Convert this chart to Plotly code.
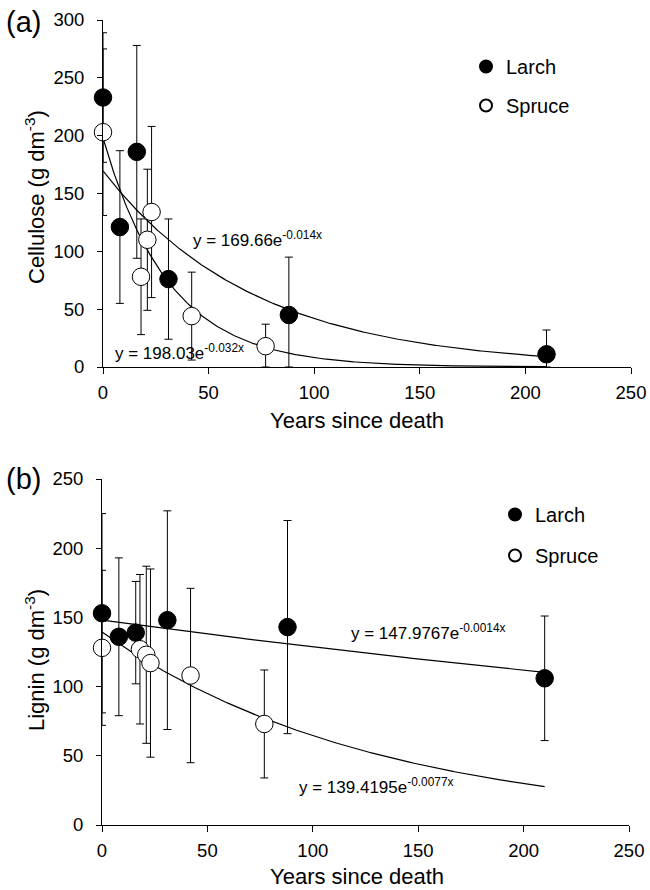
import numpy as np
import plotly.graph_objects as go

# ---------------- data ----------------
# Panel (a) Cellulose
cel_larch_x = [0, 8, 16, 31, 88, 210]
cel_larch_y = [233, 121, 186, 76, 45, 11]
cel_larch_err = [56, 66, 92, 52, 50, 21]

cel_spruce_x = [0, 18, 21, 23, 42, 77]
cel_spruce_y = [203, 78, 110, 134, 44, 18]
cel_spruce_err = [72, 50, 61, 74, 38, 19]

# Panel (b) Lignin
lig_larch_x = [0, 8, 16, 31, 88, 210]
lig_larch_y = [153, 136, 139, 148, 143, 106]
lig_larch_err = [72, 57, 37, 79, 77, 45]

lig_spruce_x = [0, 18, 21, 23, 42, 77]
lig_spruce_y = [128, 127, 123, 117, 108, 73]
lig_spruce_err = [56, 54, 64, 68, 63, 39]

# exponential trend lines as printed on the chart: y = a * exp(b x)
cel_larch_fit = (169.66, -0.014)
cel_spruce_fit = (198.03, -0.032)
lig_larch_fit = (147.9767, -0.0014)
lig_spruce_fit = (139.4195, -0.0077)
fit_x_end = 210

eq_labels = {
    "cel_larch": "y = 169.66e<sup>-0.014x</sup>",
    "cel_spruce": "y = 198.03e<sup>-0.032x</sup>",
    "lig_larch": "y = 147.9767e<sup>-0.0014x</sup>",
    "lig_spruce": "y = 139.4195e<sup>-0.0077x</sup>",
}

x_ticks = [0, 50, 100, 150, 200, 250]
cel_ticks = [0, 50, 100, 150, 200, 250, 300]
lig_ticks = [0, 50, 100, 150, 200, 250]

FONT = "Liberation Sans, Arial, sans-serif"
W, H = 650, 890


def px(x):
    return x / W


def py(y):
    return 1 - y / H


fig = go.Figure()


def trend(fit, xa, ya):
    a, b = fit
    xs = np.linspace(0, fit_x_end, 300)
    fig.add_trace(go.Scatter(x=xs, y=a * np.exp(b * xs), mode="lines",
                             line=dict(color="black", width=1.2),
                             showlegend=False, hoverinfo="skip",
                             xaxis=xa, yaxis=ya))


def points(xv, yv, ev, name, fill, xa, ya, leg):
    yv = np.array(yv, float)
    ev = np.array(ev, float)
    fig.add_trace(go.Scatter(
        x=xv, y=yv, mode="markers", name=name,
        marker=dict(size=17.5, color=fill, line=dict(color="black", width=1)),
        error_y=dict(type="data", symmetric=False, array=ev,
                     arrayminus=np.minimum(ev, yv),
                     color="black", thickness=1, width=4),
        cliponaxis=False, xaxis=xa, yaxis=ya, legend=leg,
        legendgroup=leg + name, showlegend=True))


trend(cel_larch_fit, "x", "y")
trend(cel_spruce_fit, "x", "y")
points(cel_larch_x, cel_larch_y, cel_larch_err, "Larch", "black", "x", "y", "legend")
points(cel_spruce_x, cel_spruce_y, cel_spruce_err, "Spruce", "white", "x", "y", "legend")

trend(lig_larch_fit, "x2", "y2")
trend(lig_spruce_fit, "x2", "y2")
points(lig_larch_x, lig_larch_y, lig_larch_err, "Larch", "black", "x2", "y2", "legend2")
points(lig_spruce_x, lig_spruce_y, lig_spruce_err, "Spruce", "white", "x2", "y2", "legend2")

tickfont = dict(family=FONT, size=18.5, color="black")


def xax(domain, anchor):
    return dict(domain=domain, anchor=anchor, range=[0, 250], tickvals=x_ticks,
                showline=True, linecolor="black", linewidth=1, ticks="outside",
                ticklen=6, tickcolor="black", tickwidth=1, showgrid=False,
                zeroline=False, tickfont=tickfont, ticklabelstandoff=3,
                automargin=False, ticklabeloverflow="allow")


def yax(domain, anchor, rng, tv):
    return dict(domain=domain, anchor=anchor, range=rng, tickvals=tv,
                showline=True, linecolor="black", linewidth=1, ticks="outside",
                ticklen=5, tickcolor="black", tickwidth=1, showgrid=False,
                zeroline=False, tickfont=tickfont, ticklabelstandoff=9,
                automargin=False, ticklabeloverflow="allow")


def yin(over, rng, tv, anchor):
    return dict(overlaying=over, anchor=anchor, range=rng, tickvals=tv,
                showline=False, ticks="inside", ticklen=5, tickcolor="black",
                tickwidth=1, showticklabels=False, showgrid=False, zeroline=False,
                automargin=False)


xa_dom = [px(103), px(631)]
xb_dom = [px(102), px(629)]
ya_dom = [py(367), py(20)]
yb_dom = [py(825), py(479)]

fig.update_layout(
    width=W, height=H, plot_bgcolor="white", paper_bgcolor="white",
    margin=dict(l=0, r=0, t=0, b=0, pad=0, autoexpand=False),
    font=dict(family=FONT, color="black"),
    xaxis=xax(xa_dom, "y"),
    yaxis=yax(ya_dom, "x", [0, 300], cel_ticks),
    xaxis2=xax(xb_dom, "y2"),
    yaxis2=yax(yb_dom, "x2", [0, 250], lig_ticks),
    yaxis3=yin("y", [0, 300], cel_ticks, "x"),
    yaxis4=yin("y2", [0, 250], lig_ticks, "x2"),
    legend=dict(x=px(466), y=py(47), xanchor="left", yanchor="top",
                font=dict(family=FONT, size=20, color="black"),
                bgcolor="rgba(0,0,0,0)", itemsizing="constant", itemwidth=30,
                tracegroupgap=10, traceorder="grouped"),
    legend2=dict(x=px(495), y=py(495), xanchor="left", yanchor="top",
                 font=dict(family=FONT, size=20, color="black"),
                 bgcolor="rgba(0,0,0,0)", itemsizing="constant", itemwidth=30,
                 tracegroupgap=12, traceorder="grouped"),
    showlegend=True,
)

ann = []


def txt(text, x, y, size, xanchor="center", angle=0):
    ann.append(dict(text=text, x=px(x), y=py(y), xref="paper", yref="paper",
                    xanchor=xanchor, yanchor="middle", showarrow=False,
                    textangle=angle, font=dict(family=FONT, size=size, color="black")))


txt("(a)", 4, 22, 29, xanchor="left")
txt("(b)", 4, 479, 29, xanchor="left")
txt("Years since death", 357, 420, 22)
txt("Years since death", 357, 876, 22)
txt("Cellulose (g dm<sup>-3</sup>)", 35, 197, 22, angle=-90)
txt("Lignin (g dm<sup>-3</sup>)", 35, 660, 22, angle=-90)
txt(eq_labels["cel_larch"], 191, 239, 17, xanchor="left")
txt(eq_labels["cel_spruce"], 113, 352, 17, xanchor="left")
txt(eq_labels["lig_larch"], 349, 632, 17, xanchor="left")
txt(eq_labels["lig_spruce"], 297, 786, 17, xanchor="left")
fig.update_layout(annotations=ann)

fig.write_html(
    "out.html",
    config={"displayModeBar": False},
    post_script="document.body.style.margin='0';document.body.style.overflow='hidden';",
)
